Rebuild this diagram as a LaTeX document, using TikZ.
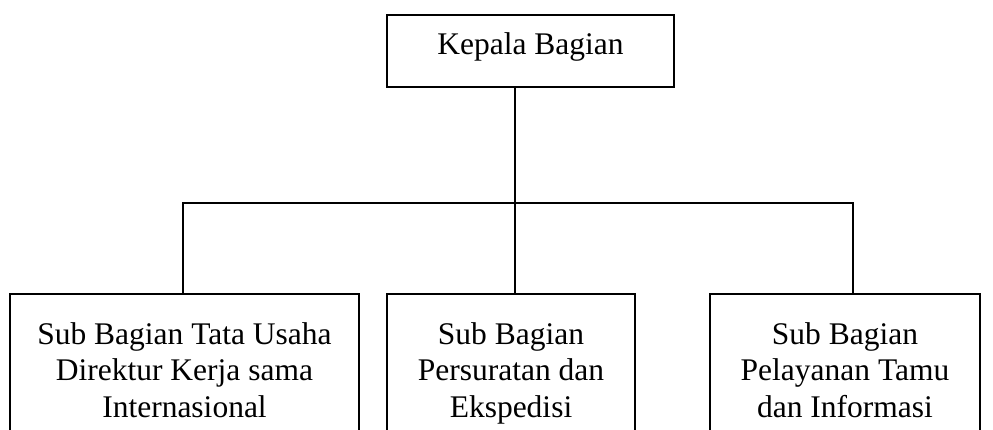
\documentclass[tikz,border=0pt]{standalone}
\usepackage{fontspec}
\setmainfont{Liberation Serif}
\usepackage{tikz}
\usetikzlibrary{positioning}

\begin{document}
\begin{tikzpicture}[x=1pt,y=-1pt,
  box/.style n args={2}{draw,line width=1.8pt,rectangle,inner sep=0pt,minimum width=#1pt,minimum height=#2pt},
  lbl/.style={inner sep=0pt,align=center,font=\fontsize{31.5}{36.5}\selectfont},
  conn/.style={line width=1.2pt}]
\useasboundingbox (0,0) rectangle (993,430);
\clip (0,0) rectangle (993,430);
\node[box={287}{72},font=\fontsize{31.5}{36.5}\selectfont,text height=22pt,text depth=14pt](kb) at(530.5,51) {Kepala Bagian};
\foreach \n/\x/\w/\t in %
{sa/184.5/349/{Sub Bagian Tata Usaha\\Direktur Kerja sama\\Internasional},
 sb/511/248/{Sub Bagian\\Persuratan dan\\Ekspedisi},
 sc/845/270/{Sub Bagian\\Pelayanan Tamu\\dan Informasi}} {
   \node[box={\w}{180},anchor=north](\n) at(\x,293) {};
   \node[lbl,below=29pt of \n.north](\n t) {\t};
}
\coordinate (ja) at (183,203);
\coordinate (jb) at (515,203);
\coordinate (jc) at (853,203);
\draw[conn] (kb.south -| jb) -- (jb |- sb.north);
\draw[conn] (ja |- sa.north) |- (jc) -- (jc |- sc.north);
\end{tikzpicture}
\end{document}
